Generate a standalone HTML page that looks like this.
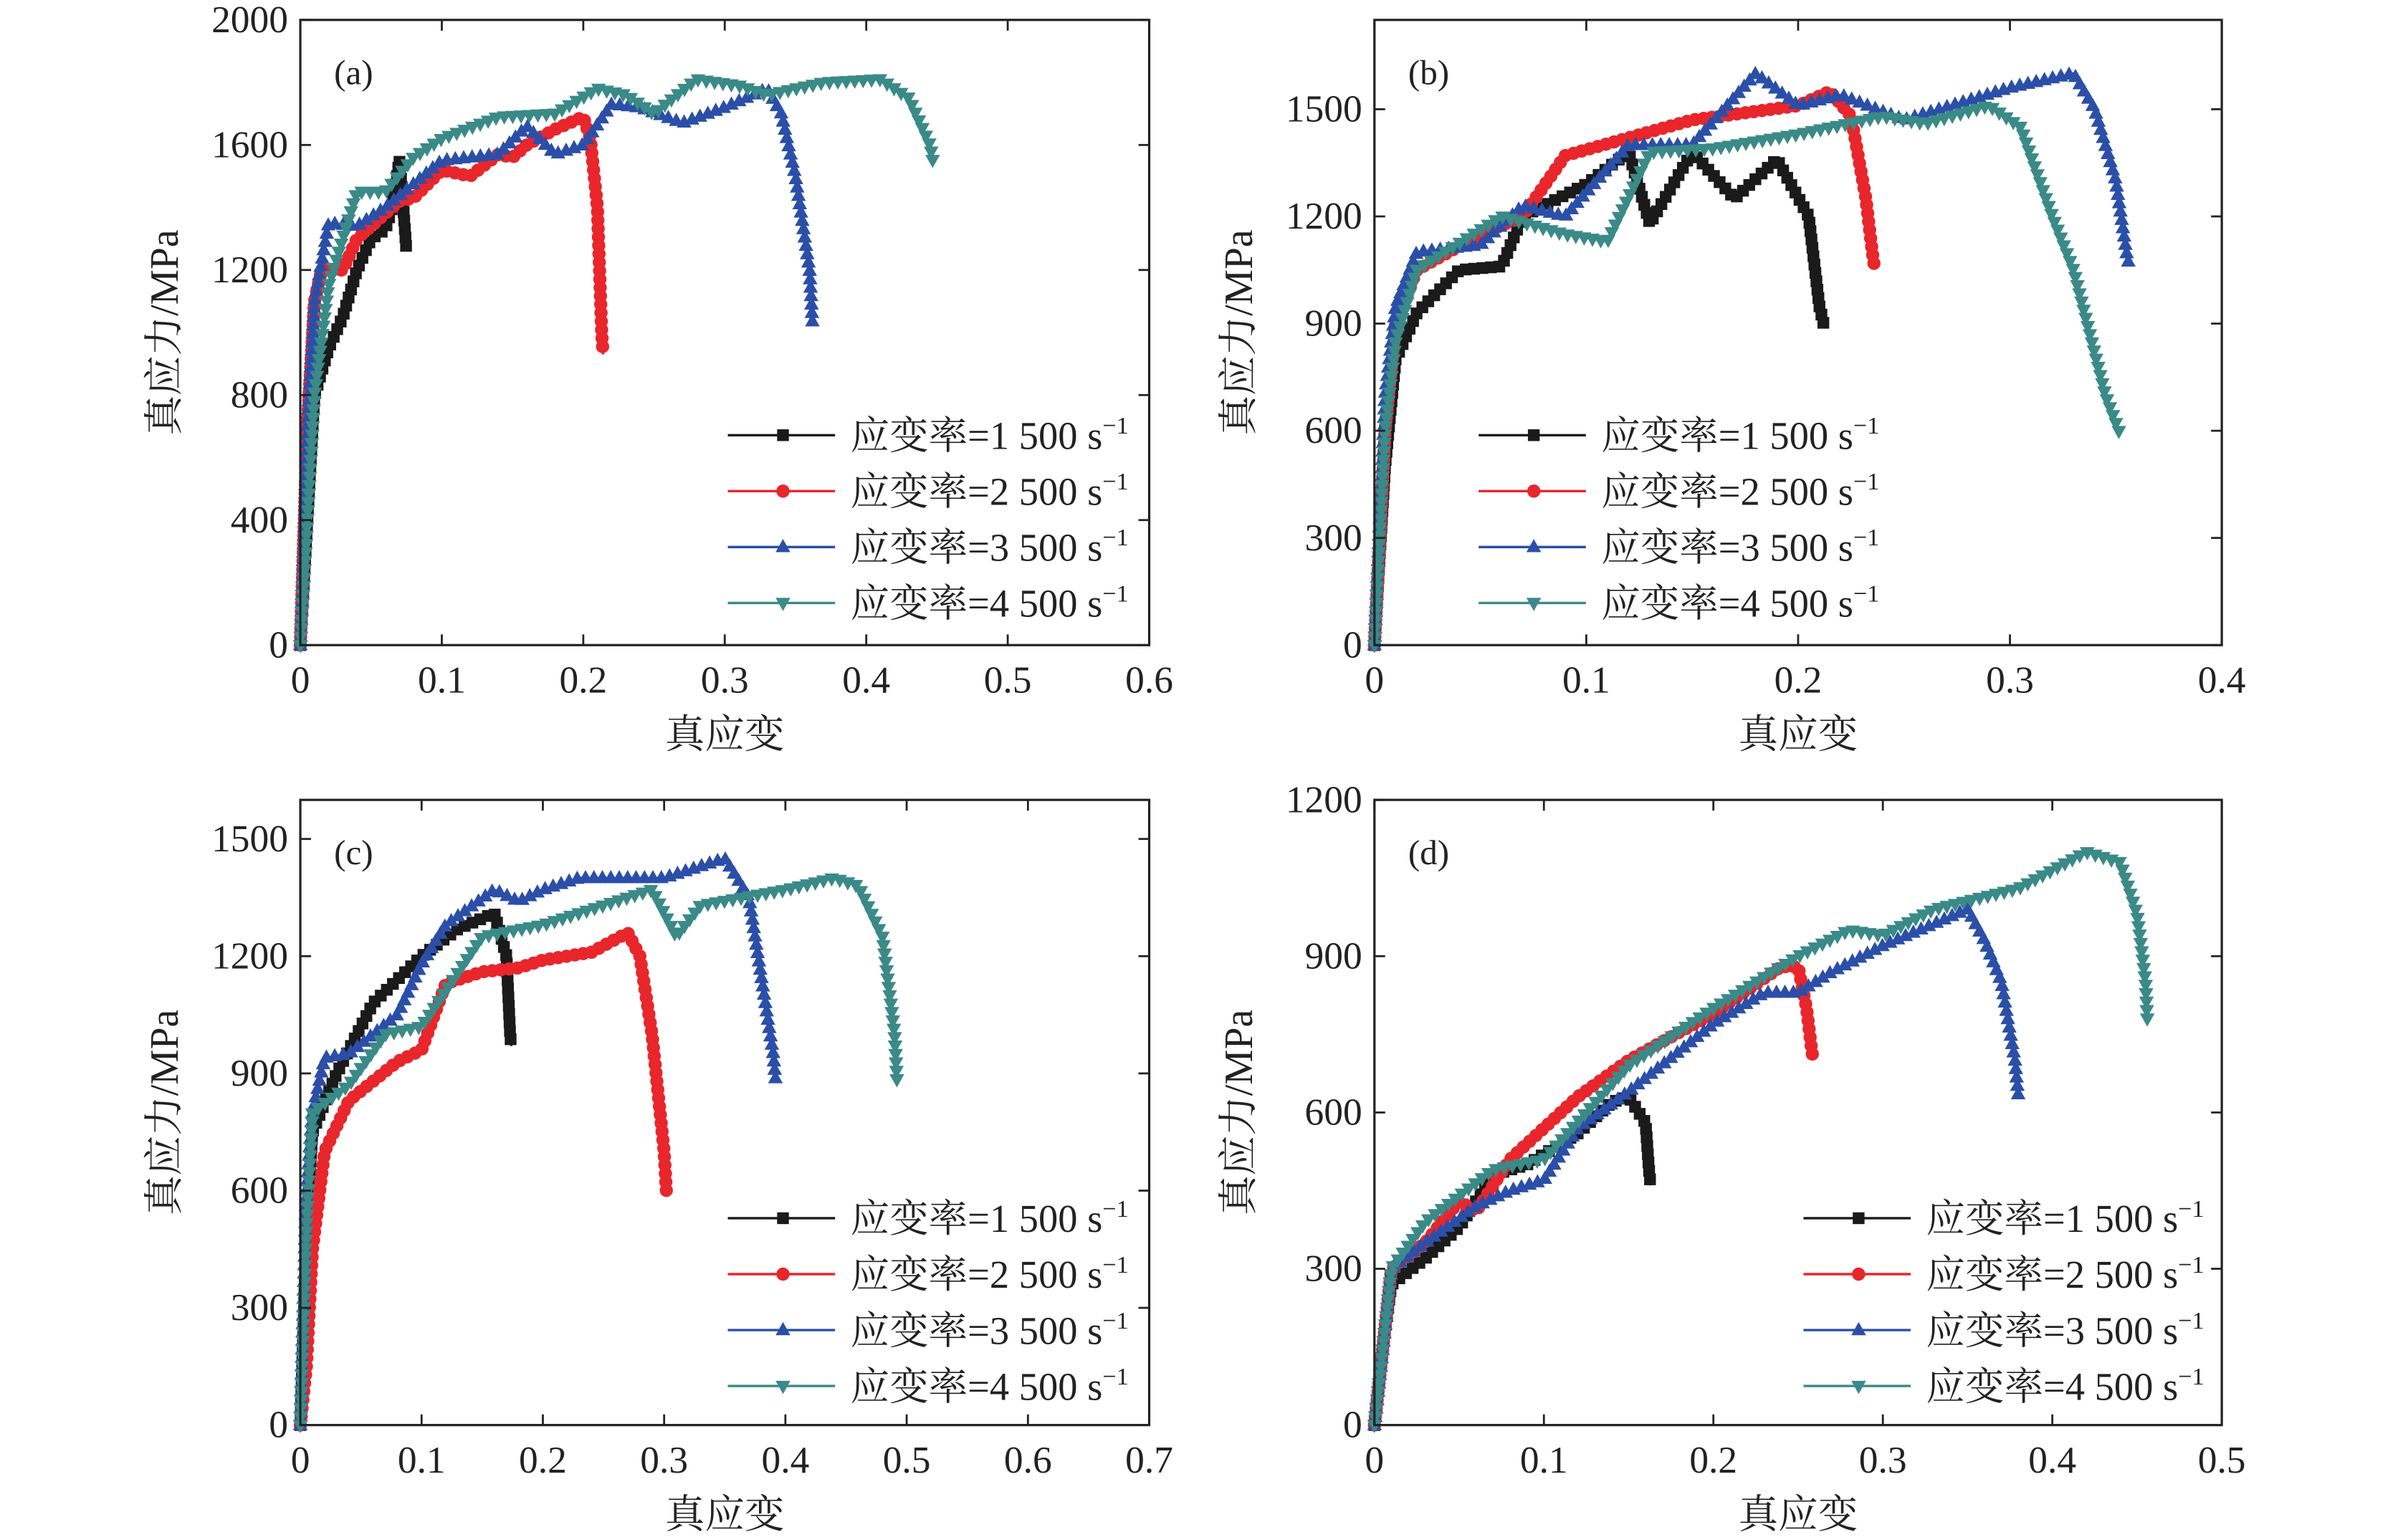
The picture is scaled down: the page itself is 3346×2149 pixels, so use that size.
<!DOCTYPE html>
<html><head><meta charset="utf-8"><style>
html,body{margin:0;padding:0;background:#fff;}
svg{display:block;}
text{font-family:"Liberation Serif","Noto Serif CJK SC",serif;fill:#222;}
</style></head><body>
<svg id="s" width="3346" height="2149" viewBox="0 0 1565 1005" preserveAspectRatio="none" xmlns="http://www.w3.org/2000/svg"></svg>
<script>
const S=document.getElementById('s');const NS='http://www.w3.org/2000/svg';
function el(t,a,txt){const e=document.createElementNS(NS,t);for(const k in a)e.setAttribute(k,a[k]);if(txt!==undefined)e.textContent=txt;S.appendChild(e);return e;}
const C={k:'#1a1a1a',r:'#e8262b',b:'#2b4fa8',t:'#3a8a87'};
function marker(type,x,y,c,s){s=s||4.8;
 if(type=='k')el('rect',{x:x-s*0.8,y:y-s*0.8,width:s*1.6,height:s*1.6,fill:c});
 else if(type=='r')el('circle',{cx:x,cy:y,r:s*0.9,fill:c});
 else if(type=='b')el('polygon',{points:`${x},${y-s*1.1} ${x-s},${y+s*0.7} ${x+s},${y+s*0.7}`,fill:c});
 else el('polygon',{points:`${x},${y+s*1.1} ${x-s},${y-s*0.7} ${x+s},${y-s*0.7}`,fill:c});}
const panels=[
{L:196,R:750,T:13,B:421,xm:0.6,xs:0.1,ym:2000,ys:400,yt:[0,400,800,1200,1600,2000],lab:'(a)',lx:475,ly:284,
 d:{k:[[0,0],[0.005,400],[0.01,800],[0.02,950],[0.03,1050],[0.04,1200],[0.05,1300],[0.06,1330],[0.065,1400],[0.07,1550],[0.072,1450],[0.075,1260]],
 r:[[0,0],[0.005,700],[0.01,1100],[0.015,1200],[0.03,1200],[0.04,1300],[0.06,1380],[0.07,1420],[0.08,1430],[0.1,1520],[0.12,1500],[0.14,1570],[0.15,1560],[0.16,1600],[0.18,1650],[0.2,1690],[0.205,1620],[0.21,1400],[0.213,1000],[0.214,930]],
 b:[[0,0],[0.005,700],[0.01,1100],[0.02,1350],[0.04,1340],[0.06,1400],[0.1,1550],[0.14,1570],[0.16,1660],[0.18,1570],[0.2,1600],[0.22,1730],[0.24,1720],[0.27,1670],[0.3,1720],[0.33,1780],[0.34,1700],[0.35,1500],[0.36,1200],[0.362,1030]],
 t:[[0,0],[0.005,400],[0.01,800],[0.02,1150],[0.04,1450],[0.06,1450],[0.08,1560],[0.1,1620],[0.14,1690],[0.18,1700],[0.21,1780],[0.23,1760],[0.25,1700],[0.28,1810],[0.31,1790],[0.33,1760],[0.37,1800],[0.41,1810],[0.43,1750],[0.445,1600],[0.447,1550]]}},
{L:897,R:1450,T:13,B:421,xm:0.4,xs:0.1,ym:1750,ys:300,yt:[0,300,600,900,1200,1500],lab:'(b)',lx:965,ly:284,
 d:{k:[[0,0],[0.005,500],[0.01,800],[0.02,930],[0.04,1050],[0.06,1060],[0.07,1200],[0.1,1290],[0.12,1380],[0.13,1180],[0.15,1380],[0.17,1250],[0.19,1360],[0.205,1200],[0.21,950],[0.212,900]],
 r:[[0,0],[0.005,600],[0.01,900],[0.02,1050],[0.05,1150],[0.07,1200],[0.09,1370],[0.12,1420],[0.15,1470],[0.2,1510],[0.215,1550],[0.225,1480],[0.232,1250],[0.235,1100],[0.236,1060]],
 b:[[0,0],[0.005,700],[0.01,950],[0.02,1100],[0.05,1120],[0.07,1230],[0.09,1200],[0.12,1400],[0.15,1400],[0.18,1600],[0.2,1510],[0.22,1540],[0.25,1470],[0.3,1560],[0.33,1600],[0.34,1500],[0.35,1300],[0.355,1100],[0.356,1070]],
 t:[[0,0],[0.005,600],[0.01,850],[0.02,1050],[0.06,1200],[0.09,1150],[0.11,1130],[0.13,1380],[0.16,1390],[0.2,1430],[0.24,1480],[0.26,1460],[0.29,1510],[0.305,1450],[0.32,1200],[0.33,1050],[0.345,700],[0.352,590]]}},
{L:196,R:750,T:522,B:930,xm:0.7,xs:0.1,ym:1600,ys:300,yt:[0,300,600,900,1200,1500],lab:'(c)',lx:475,ly:795,
 d:{k:[[0,0],[0.005,500],[0.01,750],[0.03,900],[0.06,1080],[0.1,1200],[0.13,1270],[0.16,1310],[0.17,1200],[0.173,1000],[0.174,970]],
 r:[[0,0],[0.005,150],[0.01,450],[0.02,700],[0.04,830],[0.06,880],[0.08,930],[0.1,960],[0.12,1130],[0.15,1160],[0.18,1170],[0.2,1190],[0.24,1210],[0.27,1260],[0.28,1200],[0.29,1000],[0.3,700],[0.302,590]],
 b:[[0,0],[0.005,600],[0.01,800],[0.02,940],[0.04,950],[0.06,1000],[0.08,1050],[0.1,1180],[0.12,1280],[0.16,1370],[0.18,1340],[0.2,1370],[0.23,1400],[0.3,1400],[0.34,1440],[0.35,1450],[0.37,1350],[0.38,1150],[0.39,950],[0.392,880]],
 t:[[0,0],[0.005,500],[0.01,800],[0.04,870],[0.07,1000],[0.1,1020],[0.15,1250],[0.2,1280],[0.25,1330],[0.29,1370],[0.31,1250],[0.33,1330],[0.4,1370],[0.44,1400],[0.46,1380],[0.48,1250],[0.49,1000],[0.492,880]]}},
{L:897,R:1450,T:522,B:930,xm:0.5,xs:0.1,ym:1200,ys:300,yt:[0,300,600,900,1200],lab:'(d)',lx:1177,ly:795,
 d:{k:[[0,0],[0.005,150],[0.01,270],[0.03,320],[0.05,380],[0.07,480],[0.09,500],[0.12,560],[0.14,620],[0.15,630],[0.16,580],[0.162,490],[0.163,460]],
 r:[[0,0],[0.005,150],[0.01,300],[0.03,350],[0.05,430],[0.06,410],[0.08,510],[0.12,630],[0.15,700],[0.2,790],[0.24,880],[0.25,880],[0.255,800],[0.258,720],[0.259,700]],
 b:[[0,0],[0.005,150],[0.01,300],[0.03,350],[0.06,420],[0.08,450],[0.1,470],[0.12,570],[0.15,640],[0.2,770],[0.23,830],[0.25,830],[0.27,870],[0.3,920],[0.35,990],[0.36,930],[0.37,850],[0.378,700],[0.38,630]],
 t:[[0,0],[0.005,150],[0.01,300],[0.03,390],[0.07,490],[0.1,510],[0.15,690],[0.2,800],[0.25,900],[0.28,950],[0.3,940],[0.33,990],[0.38,1030],[0.42,1100],[0.44,1080],[0.45,980],[0.455,850],[0.456,780]]}}
];
for(const p of panels){
 const X=v=>p.L+(p.R-p.L)*v/p.xm, Y=v=>p.B-(p.B-p.T)*v/p.ym;
 for(const key of ['k','r','b','t']){
  const pts=p.d[key].map(q=>[X(q[0]),Y(q[1])]);
  el('polyline',{points:pts.map(q=>q.join(',')).join(' '),fill:'none',stroke:C[key],'stroke-width':1.6,'stroke-linejoin':'round'});
  let acc=0,step=5.5;
  marker(key,pts[0][0],pts[0][1],C[key]);
  for(let i=1;i<pts.length;i++){
   const dx=pts[i][0]-pts[i-1][0],dy=pts[i][1]-pts[i-1][1],len=Math.hypot(dx,dy);
   let t=step-acc;
   while(t<=len){marker(key,pts[i-1][0]+dx*t/len,pts[i-1][1]+dy*t/len,C[key]);t+=step;}
   acc=len-(t-step);
  }
 }
 el('rect',{x:p.L,y:p.T,width:p.R-p.L,height:p.B-p.T,fill:'none',stroke:'#222','stroke-width':1.5});
 const n=Math.round(p.xm/p.xs);
 for(let i=0;i<=n;i++){const x=X(i*p.xs);
  el('line',{x1:x,y1:p.B,x2:x,y2:p.B-7,stroke:'#222','stroke-width':1.3});
  el('line',{x1:x,y1:p.T,x2:x,y2:p.T+7,stroke:'#222','stroke-width':1.3});
  el('text',{x:x,y:p.B+31,'font-size':25,'text-anchor':'middle'},i==0?'0':(i*p.xs).toFixed(1));}
 for(const v of p.yt){const y=Y(v);
  el('line',{x1:p.L,y1:y,x2:p.L+7,y2:y,stroke:'#222','stroke-width':1.3});
  el('line',{x1:p.R,y1:y,x2:p.R-7,y2:y,stroke:'#222','stroke-width':1.3});
  el('text',{x:p.L-8,y:y+8,'font-size':25,'text-anchor':'end'},String(v));}
 el('text',{x:p.L+22,y:p.T+42,'font-size':23},p.lab);
 el('text',{x:(p.L+p.R)/2,y:p.B+67,'font-size':26,'text-anchor':'middle'},'真应变');
 const yc=(p.T+p.B)/2;
 el('text',{x:0,y:0,'font-size':26,'text-anchor':'middle',transform:`translate(${p.L-80},${yc}) rotate(-90)`},'真应力/MPa');
 const rates=['1','2','3','4'];
 ['k','r','b','t'].forEach((key,i)=>{const y=p.ly+i*36.5;
  el('line',{x1:p.lx,y1:y,x2:p.lx+70,y2:y,stroke:C[key],'stroke-width':1.6});
  marker(key,p.lx+36,y,C[key]);
  const t=el('text',{x:p.lx+80,y:y+9,'font-size':25.5},'应变率='+rates[i]+' 500 s');
  const ts=document.createElementNS(NS,'tspan');ts.setAttribute('dy','-10');ts.setAttribute('font-size','16');ts.textContent='−1';t.appendChild(ts);
 });
}
</script>
</body></html>
